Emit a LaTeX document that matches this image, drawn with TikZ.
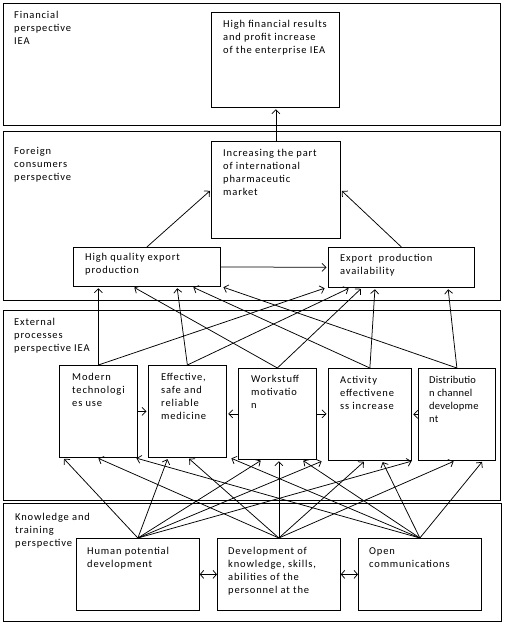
\documentclass[tikz,border=0pt]{standalone}
\usepackage{fontspec}
\setmainfont{Carlito}[LetterSpace=8]
\usepackage{tikz}
\usetikzlibrary{arrows.meta}
\usetikzlibrary{positioning}

\begin{document}
\begin{tikzpicture}[x=1pt,y=-1pt,
	font=\fontsize{10.5}{13}\selectfont,
	band/.style={draw,line width=0.8pt},
	box/.style={draw,fill=white,anchor=north west,inner sep=0pt,line width=0.75pt},
	txt/.style={anchor=north west,align=left,inner xsep=12pt,inner ysep=8pt},
	tag/.style={anchor=north west,align=left,inner sep=0pt},
	arr/.style={-{Straight Barb[length=4pt,width=8pt]},line width=0.75pt,shorten >=1.5pt},
	link/.style={{Straight Barb[length=3.5pt,width=8pt]}-{Straight Barb[length=3.5pt,width=8pt]},line width=0.75pt}]
  \useasboundingbox (0,0) rectangle (505,624);

  % perspectives
  \draw[band] (3,3) rectangle (500,125);
  \draw[band] (3,131) rectangle (500,300);
  \draw[band] (3,310) rectangle (500,500);
  \draw[band] (3,503) rectangle (501,621);
  \node[tag] (tfin) at (14,11) {Financial\\perspective\\IEA};
  \node[tag] (tfor) at (14,147) {Foreign\\consumers\\perspective};
  \node[tag] (text) at (14,318) {External\\processes\\perspective IEA};
  \node[tag] (tknow) at (15,513) {Knowledge and\\training\\perspective};

  % financial and foreign consumers
  \node[box,minimum width=128pt,minimum height=95pt,
    label={[txt]north west:High financial results\\and profit increase\\of the enterprise IEA}] (fin) at (211,12) {};
  \node[box,minimum width=129pt,minimum height=97pt,
    label={[txt]north west:Increasing the part\\of international\\pharmaceutic\\market}] (incr) at (211,141) {};
  \node[box,minimum width=147pt,minimum height=39pt,
    label={[txt,inner ysep=6pt]north west:High quality export\\production}] (hq) at (73,247) {};
  \node[box,minimum width=146pt,minimum height=40pt,
    label={[txt,inner ysep=7pt]north west:Export~ production\\availability}] (avail) at (328,247) {};

  % external processes
  \node[box,minimum width=78pt,minimum height=92pt,
    label={[txt,inner xsep=13pt]north west:Modern\\technologi\\es use}] (modern) at (59,365) {};
  \node[box,minimum width=78pt,minimum height=92pt,
    label={[txt,inner xsep=13pt]north west:Effective,\\safe and\\reliable\\medicine}] (effect) at (148,365) {};
  \node[box,minimum width=78pt,minimum height=91pt,
    label={[txt,inner xsep=13pt,inner ysep=7pt]north west:Workstuff\\motivatio\\n}] (motiv) at (238,368) {};
  \node[box,minimum width=83pt,minimum height=92pt,
    label={[txt]north west:Activity\\effectivene\\ss increase}] (activ) at (328,368) {};
  \node[box,minimum width=77pt,minimum height=92pt,
    label={[txt,inner xsep=11pt,font=\fontsize{10.5}{13}\selectfont\addfontfeature{LetterSpace=2}]north west:Distributio\\n channel\\developme\\nt}] (distr) at (418,368) {};

  % knowledge and training
  \node[box,minimum width=123pt,minimum height=72pt,
    label={[txt,inner xsep=11pt,inner ysep=9pt]north west:Human potential\\development}] (human) at (76,538) {};
  \node[box,minimum width=123pt,minimum height=72pt,
    label={[txt,inner xsep=11pt,inner ysep=9pt]north west:Development of\\knowledge, skills,\\abilities of the\\personnel at the}] (devel) at (217,538) {};
  \node[box,minimum width=123pt,minimum height=72pt,
    label={[txt,inner xsep=11pt,inner ysep=9pt]north west:Open\\communications}] (open) at (358,538) {};

  % foreign consumers -> financial
  \draw[arr] (incr.north) -- (incr.north |- fin.south);
  \draw[arr] (hq.north) -- (incr.west);
  \draw[arr] (avail.north) -- (incr.east);
  \draw[arr] (hq.east) -- (avail.west);

  % external processes -> foreign consumers
  \draw[arr] (modern.north) -- (modern.north |- hq.south);
  \draw[arr] (modern.north) -- (326,0 |- avail.south);
  \draw[arr] (effect.north) -- (177,0 |- hq.south);
  \draw[arr] (effect.north) -- (350,0 |- avail.south);
  \draw[arr] (motiv.north) -- (133,0 |- hq.south);
  \draw[arr] (motiv.north) -- (362,0 |- avail.south);
  \draw[arr] (activ.north) -- (375,0 |- avail.south);
  \draw[arr] (activ.north) -- (192,0 |- hq.south);
  \draw[arr] (distr.north) -- (448,0 |- avail.south);
  \draw[arr] (distr.north) -- (222,0 |- hq.south);

  \draw[arr] (modern.east) -- (modern.east -| effect.west);
  \draw[arr] (motiv.west) -- (motiv.west -| effect.east);
  \draw[arr] (motiv.east) -- (motiv.east -| activ.west);
  \draw[arr] (distr.west) -- (distr.west -| activ.east);

  % knowledge and training -> external processes
  \draw[arr] (human.north) -- (63,0 |- modern.south);
  \draw[arr] (human.north) -- (168,0 |- effect.south);
  \draw[arr] (human.north) -- (262,0 |- motiv.south);
  \draw[arr] (human.north) -- (323,0 |- activ.south);
  \draw[arr] (human.north) -- (413,0 |- distr.south);
  \draw[arr] (devel.north) -- (97,0 |- modern.south);
  \draw[arr] (devel.north) -- (188,0 |- effect.south);
  \draw[arr] (devel.north) -- (devel.north |- motiv.south);
  \draw[arr] (devel.north) -- (365,0 |- activ.south);
  \draw[arr] (devel.north) -- (455,0 |- distr.south);
  \draw[arr] (open.north) -- (135,0 |- modern.south);
  \draw[arr] (open.north) -- (230,0 |- effect.south);
  \draw[arr] (open.north) -- (302,0 |- motiv.south);
  \draw[arr] (open.north) -- (382,0 |- activ.south);
  \draw[arr] (open.north) -- (483,0 |- distr.south);

  \draw[link] (human.east) -- (devel.west);
  \draw[link] (devel.east) -- (open.west);

\end{tikzpicture}
\end{document}
